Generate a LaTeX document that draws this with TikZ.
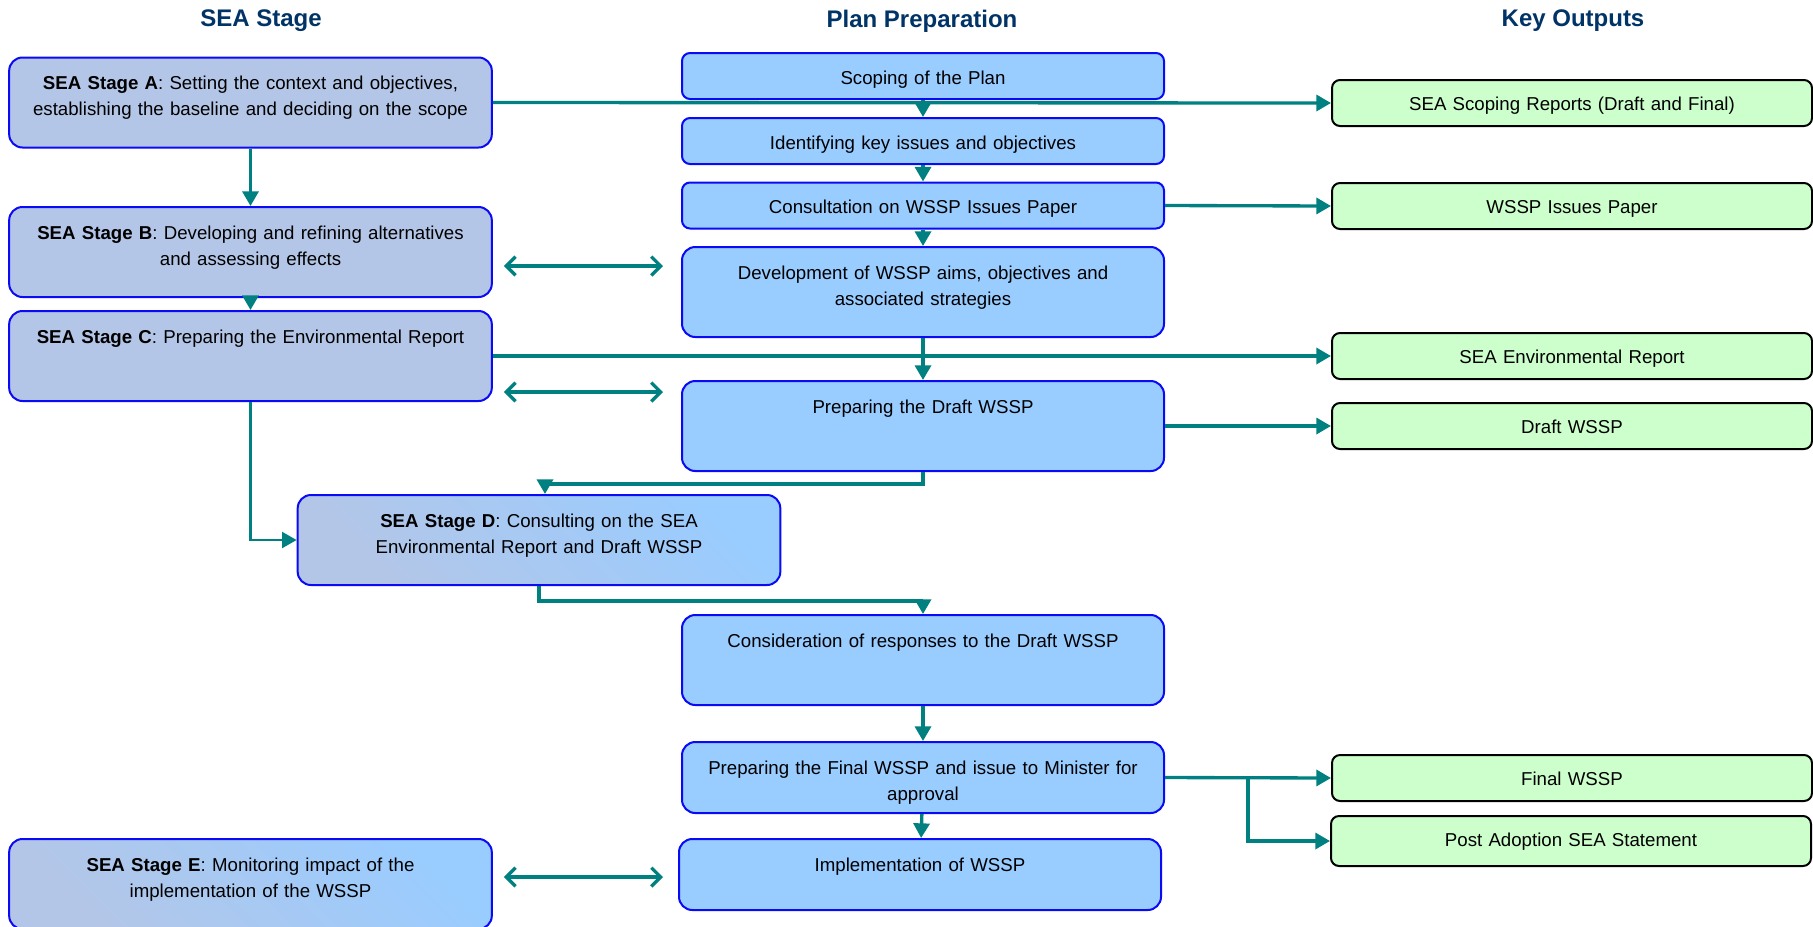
\documentclass[tikz,border=0pt]{standalone}
\usepackage{fontspec}
\setmainfont{Liberation Sans}
\usetikzlibrary{arrows.meta}

\definecolor{seaLav}{RGB}{180,198,231}
\definecolor{planBlue}{RGB}{153,204,255}
\definecolor{outGreen}{RGB}{204,255,204}
\definecolor{edgeBlue}{RGB}{10,10,245}
\definecolor{flowTeal}{RGB}{0,128,128}
\definecolor{headNavy}{RGB}{0,51,102}

\tikzset{every picture/.style={line width=0.75pt}}
\tikzset{
  boxtext/.style={font=\fontsize{14}{19.5}\selectfont, align=center, inner xsep=0pt, inner ysep=0pt},
  stagebox/.style={boxtext, draw=edgeBlue, line width=1.5pt, rounded corners=10pt, fill=seaLav,
    text width=362pt, text height=24pt, text depth=43.5pt},
  stagegrad/.style={stagebox, bottom color=seaLav, top color=planBlue, shading angle=-45},
  planbox/.style={boxtext, draw=edgeBlue, line width=1.5pt, rounded corners=6pt, fill=planBlue,
    text width=361.5pt, text height=23.5pt, text depth=11pt},
  plantall/.style={planbox, rounded corners=10pt, text height=24pt, text depth=#1},
  plantall/.default=43.5pt,
  outbox/.style={boxtext, draw=black, line width=1.5pt, rounded corners=6pt, fill=outGreen,
    text width=360pt, text height=23pt, text depth=#1},
  outbox/.default=11.5pt,
  heading/.style={font=\fontsize{18}{22}\selectfont\bfseries, text=headNavy},
  flow/.style={draw=flowTeal, line width=2.5pt, -{Triangle[length=11pt,width=12pt]}},
  twoway/.style={draw=flowTeal, line width=2.5pt,
    {Straight Barb[length=7pt,width=14pt]}-{Straight Barb[length=7pt,width=14pt]}},
}

\begin{document}
\begin{tikzpicture}[x=0.75pt,y=0.75pt,yscale=-1,xscale=1]
%set diagram to the size of the page
\useasboundingbox (0,0) rectangle (1813,926);

% Text Node
\node [heading] (hdStage) at (261,21) {SEA Stage};
% Text Node
\node [heading] (hdPlan) at (922,21) {Plan Preparation};
% Text Node
\node [heading] (hdOut) at (1573,21) {Key Outputs};

%SEA stages
\node [stagebox] (seaA) at (250.5,102.5) {\textbf{SEA Stage A}: Setting the context and objectives,\\establishing the baseline and deciding on the scope};
\node [stagebox] (seaB) at (250.5,252) {\textbf{SEA Stage B}: Developing and refining alternatives\\and assessing effects};
\node [stagebox] (seaC) at (250.5,356) {\textbf{SEA Stage C}: Preparing the Environmental Report};
\node [stagegrad] (seaD) at (539,540) {\textbf{SEA Stage D}: Consulting on the SEA\\Environmental Report and Draft WSSP};
\node [stagegrad] (seaE) at (250.5,884) {\textbf{SEA Stage E}: Monitoring impact of the\\implementation of the WSSP};

%Plan preparation
\node [planbox] (scope) at (923,76) {Scoping of the Plan};
\node [planbox] (ident) at (923,141) {Identifying key issues and objectives};
\node [planbox] (consult) at (923,205.5) {Consultation on WSSP Issues Paper};
\node [plantall] (develop) at (923,292) {Development of WSSP aims, objectives and\\associated strategies};
\node [plantall] (draft) at (923,426) {Preparing the Draft WSSP};
\node [plantall] (consid) at (923,660) {Consideration of responses to the Draft WSSP};
\node [plantall=29.25pt] (final) at (923,777.5) {Preparing the Final WSSP and issue to Minister for\\approval};
\node [plantall=29.25pt] (impl) at (920,874.5) {Implementation of WSSP};

%Key outputs
\node [outbox] (oScope) at (1572,103) {SEA Scoping Reports (Draft and Final)};
\node [outbox] (oIssues) at (1572,206) {WSSP Issues Paper};
\node [outbox] (oEnv) at (1572,356) {SEA Environmental Report};
\node [outbox] (oDraft) at (1572,426) {Draft WSSP};
\node [outbox] (oFinal) at (1572,778) {Final WSSP};
\node [outbox=14.5pt] (oPost) at (1571,841) {Post Adoption SEA Statement};

%Down the stages
\draw [flow] (seaA) -- (seaB);
\draw [flow] (seaB) -- (seaC);
\draw [flow, line width=1.8pt] (seaC.south) |- (seaD.west);

%Down the plan
\draw [flow] (scope) -- (ident);
\draw [flow] (ident) -- (consult);
\draw [flow] (consult) -- (develop);
\draw [flow] (develop) -- (draft);
\draw [flow] (draft.south) -- ++(0,12) -| ([xshift=4.5pt]seaD.north);
\draw [flow] (seaD.south) -- ++(0,15) -| (consid.north);
\draw [flow] (consid) -- (final);
\draw [flow] (final) -- (impl);

%Across to the outputs
\draw [flow] (seaA.east) -- (oScope.west);
\draw [flow] (consult.east) -- (oIssues.west);
\draw [flow] (seaC.east) -- (oEnv.west);
\draw [flow] (draft.east) -- (oDraft.west);
\draw [flow] (final.east) -- (oFinal.west);
\draw [flow] (final.east -| 1248,0) |- (oPost.west);

%Two way links
\draw [twoway, shorten <=8.25pt, shorten >=13.5pt] (seaB.east |- 0,266) -- (develop.west |- 0,266);
\draw [twoway, shorten <=8.25pt, shorten >=13.5pt] (seaC.east |- 0,392) -- (draft.west |- 0,392);
\draw [twoway, shorten <=8.25pt, shorten >=11.25pt] (seaE.east |- 0,877) -- (impl.west |- 0,877);
\end{tikzpicture}
\end{document}
